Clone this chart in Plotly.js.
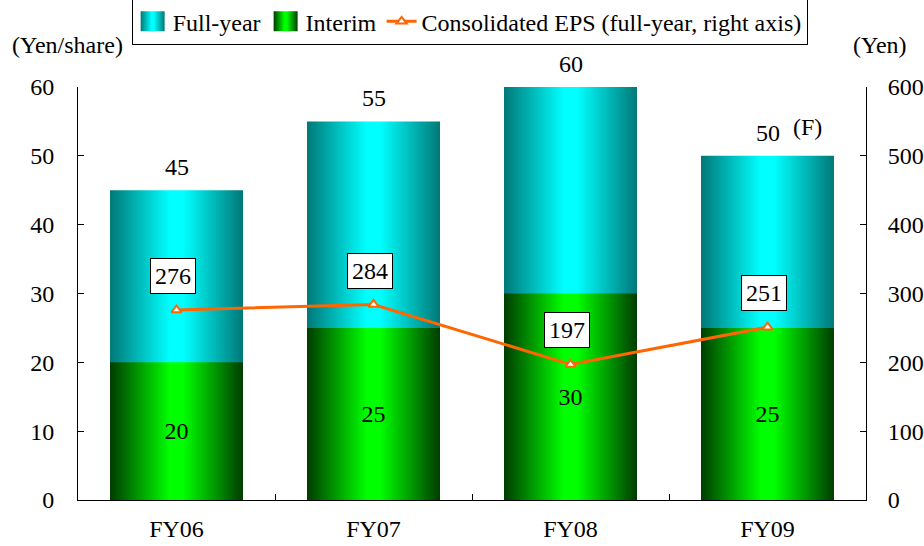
<!DOCTYPE html>
<html><head><meta charset="utf-8">
<script src="https://cdn.plot.ly/plotly-3.0.1.min.js"></script>
<style>body{margin:0;background:#fff}#chart{width:924px;height:546px}</style>
</head><body><div id="chart"></div>
<script>
const categories = ['FY06','FY07','FY08','FY09'];
const fullYear = [45, 55, 60, 50];
const interim = [20, 25, 30, 25];
const eps = [276, 284, 197, 251];
const forecastNote = '(F)';
const FONT = "'Liberation Serif', 'Times New Roman', serif";
const FS = 24;

const traces = [
  {type:'bar', name:'Full-year', x:categories, y:fullYear, marker:{color:'rgb(0,200,200)', line:{width:0}}, width:0.675, hoverinfo:'skip'},
  {type:'bar', name:'Interim', x:categories, y:interim, marker:{color:'rgb(0,200,0)', line:{width:0}}, width:0.675,
   text:interim.map(String), textposition:'inside', insidetextanchor:'middle', textfont:{family:FONT,size:FS,color:'#000'}, hoverinfo:'skip'},
  {type:'scatter', mode:'lines+markers', name:'Consolidated EPS (full-year, right axis)', x:categories, y:eps, yaxis:'y2',
   line:{color:'rgb(255,102,0)', width:3}, marker:{symbol:'triangle-up', size:9, color:'#fff', line:{color:'rgb(255,102,0)', width:2}}}
];

const annotations = [];
categories.forEach((c,i)=>{
  annotations.push({x:c, y:fullYear[i], xref:'x', yref:'y', text:String(fullYear[i]), showarrow:false, yanchor:'middle', yshift:23, font:{family:FONT,size:FS,color:'#000'}});
  annotations.push({x:c, y:eps[i], xref:'x', yref:'y2', text:String(eps[i]), showarrow:false, yanchor:'middle', yshift:34, xshift:-4,
    bgcolor:'#fff', bordercolor:'#000', borderwidth:1, borderpad:4, font:{family:FONT,size:FS,color:'#000'}});
});
annotations.push({x:categories[3], y:fullYear[3], xref:'x', yref:'y', text:forecastNote, showarrow:false, yanchor:'middle', yshift:29, xshift:40, font:{family:FONT,size:FS,color:'#000'}});
annotations.push({xref:'paper', yref:'paper', x:-0.0127, y:1.102, text:'(Yen/share)', showarrow:false, xanchor:'center', yanchor:'middle', font:{family:FONT,size:FS,color:'#000'}});
annotations.push({xref:'paper', yref:'paper', x:1.0178, y:1.102, text:'(Yen)', showarrow:false, xanchor:'center', yanchor:'middle', font:{family:FONT,size:FS,color:'#000'}});

const layout = {
  width:924, height:546,
  margin:{l:78, r:58, t:87, b:46, autoexpand:false},
  paper_bgcolor:'#fff', plot_bgcolor:'#fff',
  barmode:'overlay',
  font:{family:FONT, size:FS, color:'#000'},
  showlegend:true,
  legend:{orientation:'h', x:0.497, xanchor:'center', y:1.215, yanchor:'top', bgcolor:'#fff', bordercolor:'#000', borderwidth:1,
    font:{family:FONT,size:FS,color:'#000'}, traceorder:'normal', itemwidth:30},
  xaxis:{type:'category', showline:true, linecolor:'#000', linewidth:1, ticks:'inside', tickson:'boundaries', ticklen:6, tickcolor:'#000',
    showgrid:false, zeroline:false, tickfont:{family:FONT,size:FS,color:'#000'}, ticklabelstandoff:7},
  yaxis:{range:[0,60], dtick:10, showline:true, linecolor:'#000', linewidth:1, ticks:'inside', ticklen:6, tickcolor:'#000',
    showgrid:false, zeroline:false, tickfont:{family:FONT,size:FS,color:'#000'}, ticklabelstandoff:18},
  yaxis2:{range:[0,600], dtick:100, overlaying:'y', side:'right', showline:true, linecolor:'#000', linewidth:1, ticks:'inside', ticklen:6, tickcolor:'#000',
    showgrid:false, zeroline:false, tickfont:{family:FONT,size:FS,color:'#000'}, ticklabelstandoff:16},
  annotations:annotations
};

function addGradients(){
  const gd = document.getElementById('chart');
  const svg = gd.querySelector('.main-svg');
  let defs = svg.querySelector('defs');
  const ns = 'http://www.w3.org/2000/svg';
  function mk(id, edge, mid){
    if (svg.querySelector('#'+id)) return;
    const g = document.createElementNS(ns,'linearGradient');
    g.setAttribute('id', id); g.setAttribute('x1','0'); g.setAttribute('x2','1'); g.setAttribute('y1','0'); g.setAttribute('y2','0');
    [[0,edge],[0.45,mid],[0.55,mid],[1,edge]].forEach(([o,c])=>{
      const s = document.createElementNS(ns,'stop'); s.setAttribute('offset',o); s.setAttribute('stop-color',c); g.appendChild(s);
    });
    defs.appendChild(g);
  }
  mk('gCyan','rgb(0,120,120)','rgb(0,255,255)');
  mk('gGreen','rgb(0,60,0)','rgb(0,255,0)');
  const barTraces = gd.querySelectorAll('.barlayer .trace');
  const ids = ['gCyan','gGreen'];
  barTraces.forEach((t,i)=>{ t.querySelectorAll('.point path').forEach(p=>{ p.style.fill='url(#'+ids[i]+')'; }); });
  const legPts = gd.querySelectorAll('.legend .traces');
  legPts.forEach((t,i)=>{ if(i<2){ t.querySelectorAll('.legendpoints path').forEach(p=>{ p.style.fill='url(#'+ids[i]+')'; p.setAttribute('d','M-12,-10H12V10H-12Z'); }); } });
}

Plotly.newPlot('chart', traces, layout, {displayModeBar:false, staticPlot:true}).then(addGradients);
</script>
</body></html>
